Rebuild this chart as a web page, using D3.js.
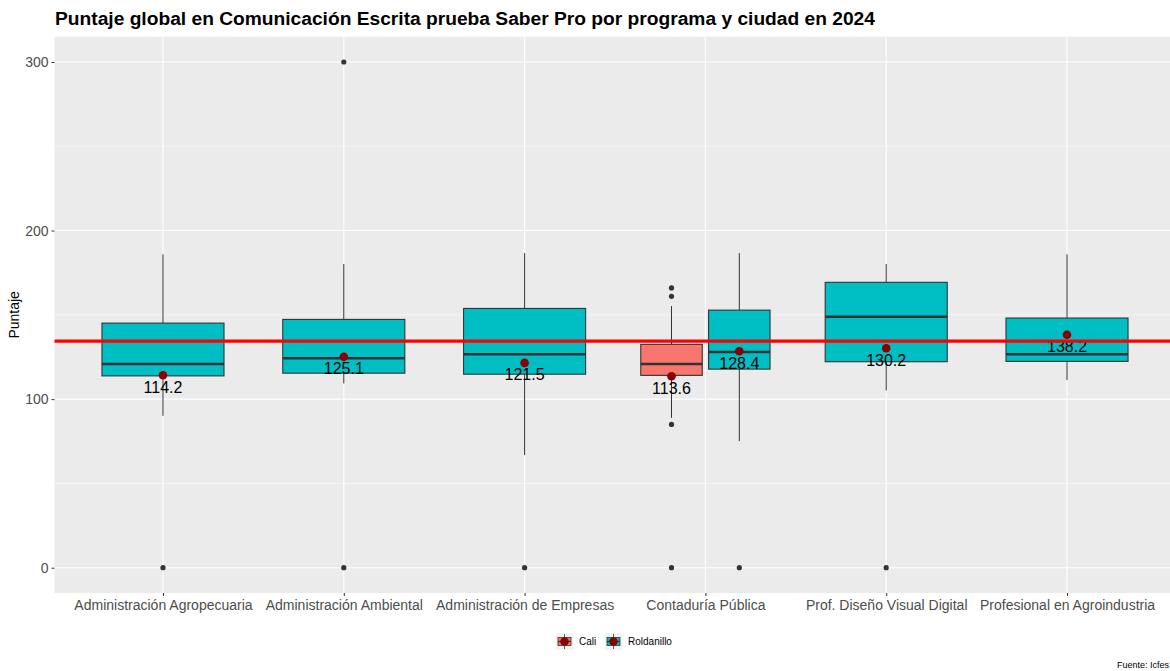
<!doctype html>
<html lang="es">
  <head>
    <meta charset="utf-8">
    <title>Puntaje global Comunicación Escrita</title>
    <script src="https://d3js.org/d3.v7.min.js"></script>
    <style>
      body { margin: 0; background: #fff; }
      text { font-family: "Liberation Sans", Arial, sans-serif; }
    </style>
  </head>

  <body>
    <svg width="1170" height="671"></svg>

    <script>
      // data
      var programs = ['Administración Agropecuaria', 'Administración Ambiental', 'Administración de Empresas',
                      'Contaduría Pública', 'Prof. Diseño Visual Digital', 'Profesional en Agroindustria'];
      var cities = ['Cali', 'Roldanillo'];
      var colors = ['#F8766D', '#00BFC4'];

      // one entry per box: program index, city index
      var boxProgram = [0, 1, 2, 3, 3, 4, 5];
      var boxCity    = [1, 1, 1, 0, 1, 1, 1];
      var lowWhisker = [90.1, 109.3, 66.8, 88.9, 75.1, 105.2, 111.3];
      var q1         = [113.8, 115.4, 114.8, 114.1, 117.8, 122.2, 122.4];
      var medians    = [120.8, 124.3, 126.7, 120.8, 127.9, 148.9, 126.7];
      var q3         = [145.1, 147.3, 153.8, 132.5, 152.8, 169.3, 148.1];
      var highWhisker= [185.9, 180.1, 186.6, 155.2, 186.6, 180.1, 185.9];
      var outliers   = [[0], [0, 300], [0], [0, 85, 161, 166], [0], [0], []];
      var means      = [114.2, 125.1, 121.5, 113.6, 128.4, 130.2, 138.2];
      var overallMean = 134.4;
      var yTicks = [0, 100, 200, 300];
      var yMinor = [50, 150, 250];

      var svg = d3.select('svg');
      var panel = {left: 54.5, top: 36.7, right: 1175.5, bottom: 593};

      var x = d3.scalePoint().domain(programs).range([panel.left, panel.right]).padding(0.6);
      var y = d3.scaleLinear().domain([-15, 315]).range([panel.bottom, panel.top]);
      var step = x.step();
      var dodge = step * 0.375, boxW = step * 0.34, fullW = step * 0.675;

      // is a program split by city?
      var countPer = programs.map(function(p, i){ return boxProgram.filter(function(b){ return b === i; }).length; });
      var boxCenter = function(i){
        var cx = x(programs[boxProgram[i]]);
        if (countPer[boxProgram[i]] > 1) cx += (boxCity[i] === 0 ? -dodge / 2 : dodge / 2);
        return cx;
      };
      var boxWidth = function(i){ return countPer[boxProgram[i]] > 1 ? boxW : fullW; };

      // panel
      svg.append('rect').attr('x', panel.left).attr('y', panel.top)
        .attr('width', panel.right - panel.left).attr('height', panel.bottom - panel.top)
        .style('fill', '#EBEBEB');

      svg.selectAll('.minor').data(yMinor).enter().append('line')
        .attr('x1', panel.left).attr('x2', panel.right)
        .attr('y1', function(d){ return y(d); }).attr('y2', function(d){ return y(d); })
        .style('stroke', '#fff').style('stroke-width', 0.55);
      svg.selectAll('.major').data(yTicks).enter().append('line')
        .attr('x1', panel.left).attr('x2', panel.right)
        .attr('y1', function(d){ return y(d); }).attr('y2', function(d){ return y(d); })
        .style('stroke', '#fff').style('stroke-width', 1.1);
      svg.selectAll('.vgrid').data(programs).enter().append('line')
        .attr('x1', function(d){ return x(d); }).attr('x2', function(d){ return x(d); })
        .attr('y1', panel.top).attr('y2', panel.bottom)
        .style('stroke', '#fff').style('stroke-width', 1.1);

      // axes
      var yAxis = svg.append('g').attr('transform', 'translate(' + panel.left + ',0)')
        .call(d3.axisLeft(y).tickValues(yTicks).tickSize(3).tickPadding(3));
      var xAxis = svg.append('g').attr('transform', 'translate(0,' + panel.bottom + ')')
        .call(d3.axisBottom(x).tickSize(3).tickPadding(4));
      [xAxis, yAxis].forEach(function(a){
        a.select('.domain').remove();
        a.selectAll('.tick line').style('stroke', '#333').style('stroke-width', 1);
        a.selectAll('.tick text').style('fill', '#4D4D4D').style('font-size', '14px')
          .style('font-family', '"Liberation Sans", Arial, sans-serif');
      });

      // boxes
      var boxes = svg.selectAll('.box').data(d3.range(boxProgram.length)).enter().append('g');
      boxes.append('line')
        .attr('x1', boxCenter).attr('x2', boxCenter)
        .attr('y1', function(i){ return y(highWhisker[i]); }).attr('y2', function(i){ return y(q3[i]); })
        .style('stroke', '#333').style('stroke-width', 1);
      boxes.append('line')
        .attr('x1', boxCenter).attr('x2', boxCenter)
        .attr('y1', function(i){ return y(q1[i]); }).attr('y2', function(i){ return y(lowWhisker[i]); })
        .style('stroke', '#333').style('stroke-width', 1);
      boxes.append('rect')
        .attr('x', function(i){ return boxCenter(i) - boxWidth(i) / 2; })
        .attr('width', boxWidth)
        .attr('y', function(i){ return y(q3[i]); })
        .attr('height', function(i){ return y(q1[i]) - y(q3[i]); })
        .style('fill', function(i){ return colors[boxCity[i]]; })
        .style('stroke', '#333').style('stroke-width', 1.1);
      boxes.append('line')
        .attr('x1', function(i){ return boxCenter(i) - boxWidth(i) / 2; })
        .attr('x2', function(i){ return boxCenter(i) + boxWidth(i) / 2; })
        .attr('y1', function(i){ return y(medians[i]); }).attr('y2', function(i){ return y(medians[i]); })
        .style('stroke', '#333').style('stroke-width', 2.5);
      boxes.each(function(i){
        d3.select(this).selectAll('circle.out').data(outliers[i]).enter().append('circle')
          .attr('cx', boxCenter(i)).attr('cy', function(d){ return y(d); }).attr('r', 2.6)
          .style('fill', '#333');
      });

      // means
      boxes.append('circle')
        .attr('cx', boxCenter).attr('cy', function(i){ return y(means[i]); }).attr('r', 4.3)
        .style('fill', '#8B0000');
      boxes.append('text')
        .attr('x', boxCenter).attr('y', function(i){ return y(means[i]) + 17.5; })
        .attr('text-anchor', 'middle').style('font-size', '16px').style('fill', '#000')
        .text(function(i){ return means[i].toFixed(1); });

      // overall mean line
      svg.append('line')
        .attr('x1', panel.left).attr('x2', panel.right)
        .attr('y1', y(overallMean)).attr('y2', y(overallMean))
        .style('stroke', '#FF0000').style('stroke-width', 3.3);

      // titles
      svg.append('text').attr('x', 55).attr('y', 25)
        .style('font-size', '19.2px').style('font-weight', 'bold').style('fill', '#000')
        .text('Puntaje global en Comunicación Escrita prueba Saber Pro por programa y ciudad en 2024');
      svg.append('text').attr('transform', 'translate(19,' + ((panel.top + panel.bottom) / 2) + ') rotate(-90)')
        .attr('text-anchor', 'middle').style('font-size', '14px').style('fill', '#000')
        .text('Puntaje');
      svg.append('text').attr('x', 1169).attr('y', 668).attr('text-anchor', 'end')
        .style('font-size', '9px').style('fill', '#000')
        .text('Fuente: Icfes');

      // legend
      var legendX = [556, 605];
      var legend = svg.selectAll('.legend').data(cities).enter().append('g')
        .attr('transform', function(d, i){ return 'translate(' + legendX[i] + ',633)'; });
      legend.append('rect').attr('width', 17).attr('height', 17).style('fill', '#F2F2F2');
      legend.append('line').attr('x1', 8.5).attr('x2', 8.5).attr('y1', 1).attr('y2', 16)
        .style('stroke', '#333').style('stroke-width', 0.8);
      legend.append('rect').attr('x', 2).attr('y', 4.5).attr('width', 13).attr('height', 8)
        .style('fill', function(d, i){ return colors[i]; }).style('stroke', '#333').style('stroke-width', 0.8);
      legend.append('line').attr('x1', 2).attr('x2', 15).attr('y1', 8.5).attr('y2', 8.5)
        .style('stroke', '#333').style('stroke-width', 1.3);
      legend.append('circle').attr('cx', 8.5).attr('cy', 8.5).attr('r', 4.3).style('fill', '#8B0000');
      legend.append('text').attr('x', 23).attr('y', 12.3)
        .style('font-size', '10px').style('fill', '#000')
        .text(function(d){ return d; });
    </script>
  </body>
</html>
